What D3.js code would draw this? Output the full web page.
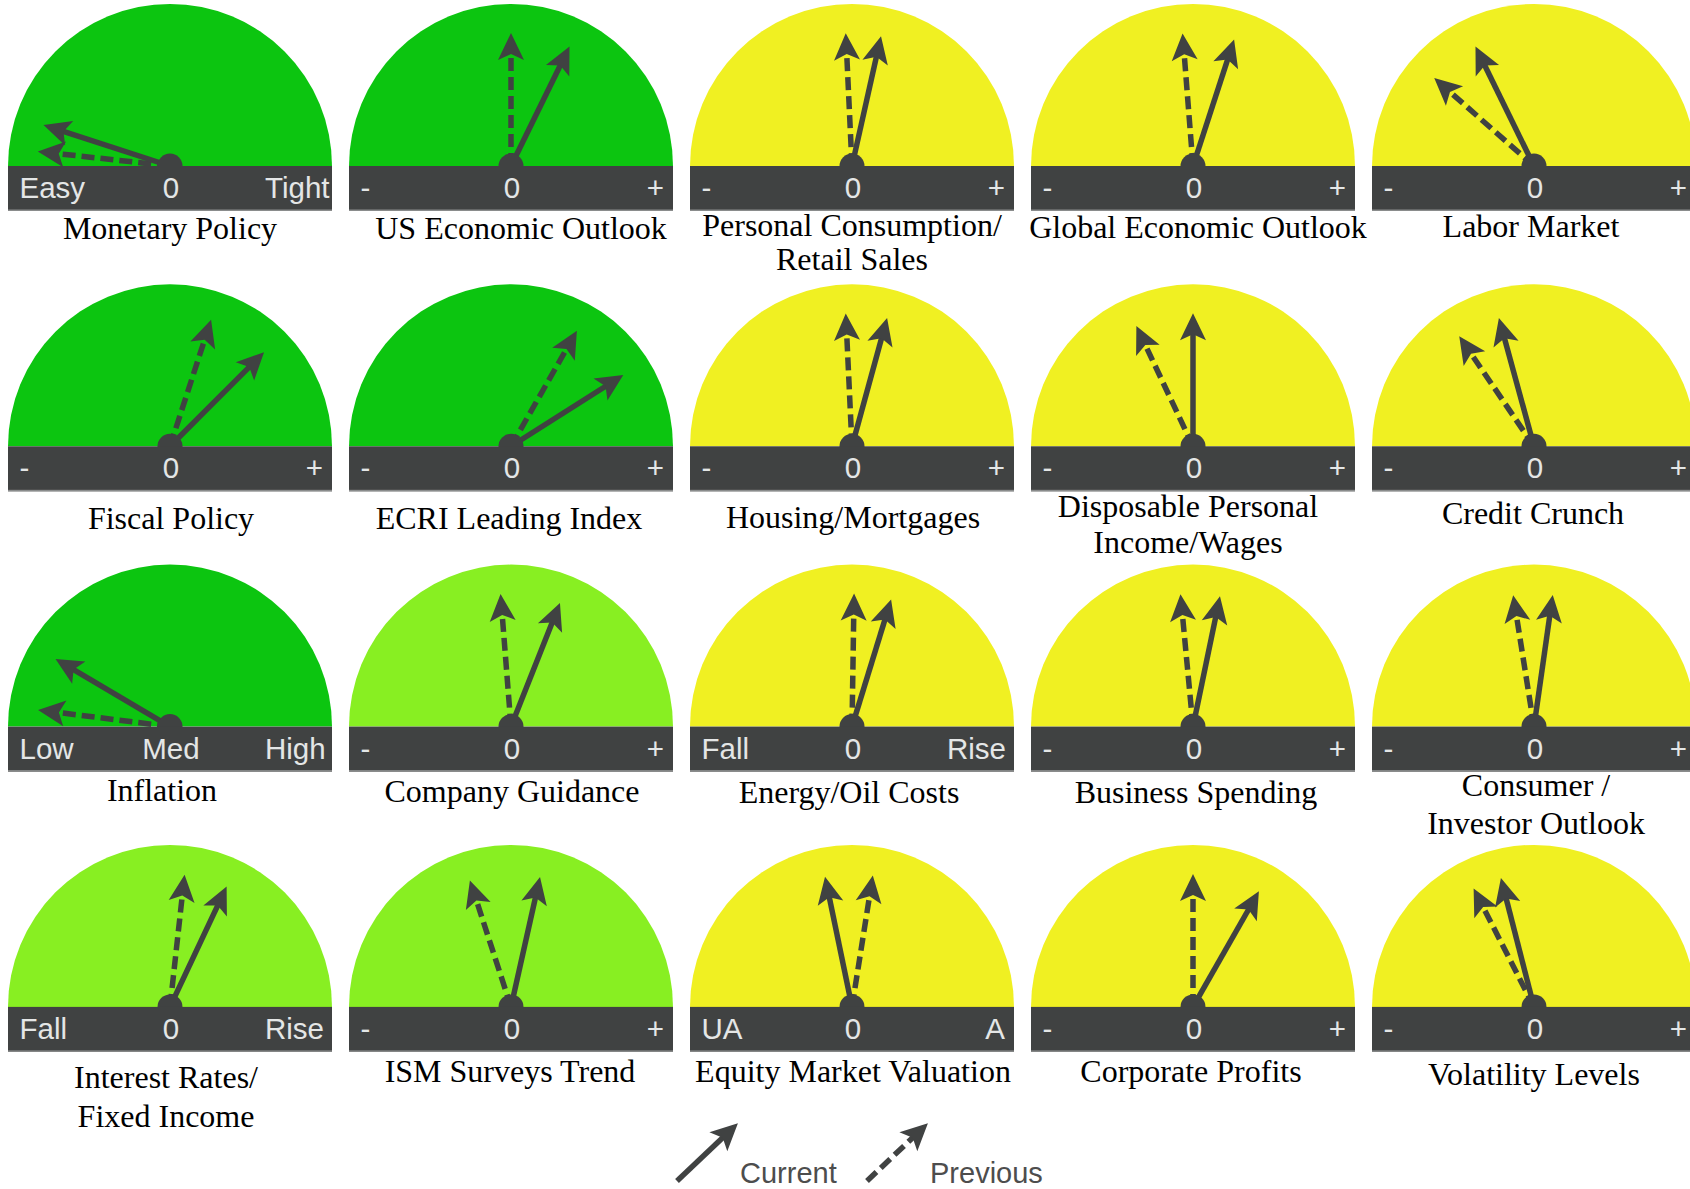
<!DOCTYPE html>
<html>
<head>
<meta charset="utf-8">
<script src="https://cdn.jsdelivr.net/npm/d3@7"></script>
<style>
  html, body { margin: 0; padding: 0; background: #ffffff; overflow: hidden; }
  svg { display: block; }
</style>
</head>
<body>
<div id="chart"></div>
<script>
// ---------------- DATA ----------------
const titles = [
  "Monetary Policy", "US Economic Outlook", "Personal Consumption/\nRetail Sales", "Global Economic Outlook", "Labor Market",
  "Fiscal Policy", "ECRI Leading Index", "Housing/Mortgages", "Disposable Personal\nIncome/Wages", "Credit Crunch",
  "Inflation", "Company Guidance", "Energy/Oil Costs", "Business Spending", "Consumer /\nInvestor Outlook",
  "Interest Rates/\nFixed Income", "ISM Surveys Trend", "Equity Market Valuation", "Corporate Profits", "Volatility Levels"
];
const lowLabels = [
  "Easy", "-", "-", "-", "-",
  "-", "-", "-", "-", "-",
  "Low", "-", "Fall", "-", "-",
  "Fall", "-", "UA", "-", "-"
];
const midLabels = [
  "0", "0", "0", "0", "0",
  "0", "0", "0", "0", "0",
  "Med", "0", "0", "0", "0",
  "0", "0", "0", "0", "0"
];
const highLabels = [
  "Tight", "+", "+", "+", "+",
  "+", "+", "+", "+", "+",
  "High", "+", "Rise", "+", "+",
  "Rise", "+", "A", "+", "+"
];
// gauge zone (background category)
const zones = [
  "strong", "strong", "neutral", "neutral", "neutral",
  "strong", "strong", "neutral", "neutral", "neutral",
  "strong", "positive", "neutral", "neutral", "neutral",
  "positive", "positive", "neutral", "neutral", "neutral"
];
// needle readings on a -100 (far left) .. +100 (far right) scale
const currentValues = [
  -80, 29, 14, 20, -29,
   50, 64, 17,  0, -17,
  -66, 24, 19, 13,   9,
   28, 14, -13, 33, -16
];
const previousValues = [
  -93,  0, -3, -5, -54,
   20, 33, -3, -28, -38,
  -92, -5,  1, -6, -10,
    7, -20, 10,  0, -30
];
const legendItems = ["Current", "Previous"];

// ---------------- LAYOUT ----------------
const W = 1690, H = 1189;
const nCols = 5;
const panelW = 324, radius = 162, barH = 45;
const needleLen = 133;
// title placement per panel: [x shift, first baseline below bar top, line gap]
const titleLayout = [
  [0, 73, 34], [10, 73, 34], [0, 70, 34], [5, 72, 34], [-3, 71, 34],
  [1, 83, 36], [-2, 83, 36], [1, 82, 36], [-5, 71, 35.5], [-1, 78, 36],
  [-8, 74, 36], [1, 75, 36], [-3, 76, 36], [3, 76, 36], [2, 69, 38],
  [-4, 81, 39], [-1, 75.5, 36], [1, 75.5, 36], [-2, 75.5, 36], [0, 78.5, 36]
];

const colX = d3.scaleLinear().domain([0, 1]).range([8, 349]);      // panel left edge
const rowY = d3.scaleLinear().domain([0, 1]).range([166, 446.3]);  // bar top
const angle = d3.scaleLinear().domain([-100, 100]).range([-90, 90]);
const zoneColor = d3.scaleOrdinal()
  .domain(["strong", "positive", "neutral"])
  .range(["#0cc510", "#88ef22", "#f0f022"]);

const ink = "#404242";

const svg = d3.select("#chart").append("svg")
  .attr("width", W).attr("height", H)
  .attr("viewBox", `0 0 ${W} ${H}`);

const arc = d3.arc()
  .innerRadius(0).outerRadius(radius)
  .startAngle(-Math.PI / 2).endAngle(Math.PI / 2);

function drawNeedle(g, len, dashed) {
  const headLen = 27, headHalf = 13, notch = 21;
  g.append("line")
    .attr("x1", 0).attr("y1", 0)
    .attr("x2", 0).attr("y2", -(len - notch + 1))
    .attr("stroke", ink)
    .attr("stroke-width", 5.5)
    .attr("stroke-dasharray", dashed ? "13,6" : null);
  g.append("path")
    .attr("d", `M0,${-len} L${headHalf},${-len + headLen} L0,${-len + notch} L${-headHalf},${-len + headLen} Z`)
    .attr("fill", ink);
}

const panels = svg.selectAll("g.panel")
  .data(titles.map((t, i) => ({
    i, title: t,
    low: lowLabels[i], mid: midLabels[i], high: highLabels[i],
    zone: zones[i], cur: currentValues[i], prev: previousValues[i],
    tl: titleLayout[i]
  })))
  .join("g")
  .attr("class", "panel")
  .attr("transform", d => `translate(${colX(d.i % nCols)},${rowY(Math.floor(d.i / nCols))})`);

panels.each(function (d) {
  const g = d3.select(this);
  const cx = panelW / 2;
  // dome
  g.append("path")
    .attr("d", arc())
    .attr("transform", `translate(${cx},0)`)
    .attr("fill", zoneColor(d.zone));
  // previous (dashed) and current (solid) needles
  drawNeedle(g.append("g").attr("transform", `translate(${cx},0) rotate(${angle(d.prev)})`), needleLen, true);
  drawNeedle(g.append("g").attr("transform", `translate(${cx},0) rotate(${angle(d.cur)})`), needleLen, false);
  // hub
  g.append("circle").attr("cx", cx).attr("cy", 0).attr("r", 12.5).attr("fill", ink);
  // bar
  g.append("rect").attr("x", 0).attr("y", 0).attr("width", panelW).attr("height", barH).attr("fill", ink);
  g.append("rect").attr("x", 0).attr("y", barH - 1.5).attr("width", panelW).attr("height", 1.5).attr("fill", "#8a8c8c");
  const lab = g.append("g")
    .attr("font-family", "'Liberation Sans', Arial, sans-serif")
    .attr("font-size", 29.5)
    .attr("fill", "#e4e6e6");
  lab.append("text").attr("x", 11.5).attr("y", 32).attr("text-anchor", "start").text(d.low);
  lab.append("text").attr("x", cx + 1).attr("y", 32).attr("text-anchor", "middle").text(d.mid);
  if (d.high.length > 1) {
    lab.append("text").attr("x", 257).attr("y", 32).attr("text-anchor", "start").text(d.high);
  } else {
    lab.append("text").attr("x", panelW - 9).attr("y", 32).attr("text-anchor", "end").text(d.high);
  }
  // title
  const lines = d.title.split("\n");
  const [dx, base, gap] = d.tl;
  const t = g.append("text")
    .attr("font-family", "'Liberation Serif', 'Times New Roman', serif")
    .attr("font-size", 32)
    .attr("fill", "#000")
    .attr("text-anchor", "middle");
  lines.forEach((ln, k) => {
    t.append("tspan").attr("x", cx + dx).attr("y", base + k * gap).text(ln);
  });
});

// ---------------- LEGEND ----------------
const legend = svg.append("g").attr("class", "legend");
const legendX = d3.scaleLinear().domain([0, 1]).range([677, 867]);
legendItems.forEach((name, k) => {
  const x0 = legendX(k), y0 = 1181;
  drawNeedle(legend.append("g").attr("transform", `translate(${x0},${y0}) rotate(46.5)`), 84, k === 1);
  legend.append("text")
    .attr("x", x0 + 63).attr("y", 1183)
    .attr("font-family", "'Liberation Sans', Arial, sans-serif")
    .attr("font-size", 29)
    .attr("fill", "#4d4d4d")
    .text(name);
});
</script>
</body>
</html>
